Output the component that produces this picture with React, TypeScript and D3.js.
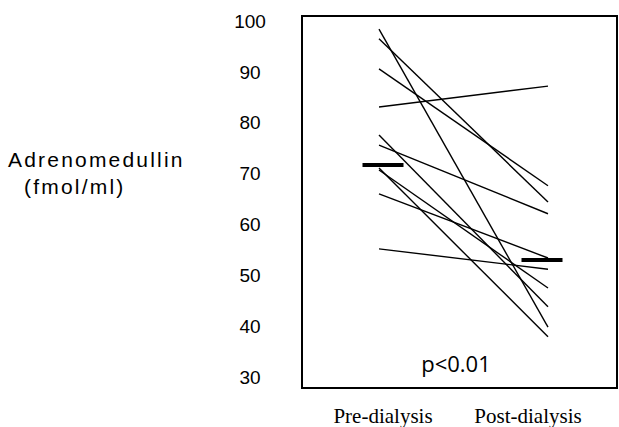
import React, { useEffect, useRef } from 'react';
import * as d3 from 'd3';

// values (fmol/ml)
const groups = ['Pre-dialysis', 'Post-dialysis'];
const preValues = [98.4, 96.5, 90.6, 83.1, 77.6, 75.6, 71.1, 70.7, 66.0, 55.2];
const postValues = [39.8, 64.4, 67.6, 87.2, 43.8, 62.1, 37.9, 47.5, 53.4, 51.2];
const meanValues = [71.7, 53.0];
const yTicks = [30, 40, 50, 60, 70, 80, 90, 100];

const App = () => {
    const svgRef = useRef<SVGSVGElement>(null);

    useEffect(() => {
        const width = 619;
        const height = 427;
        const box = { left: 302, right: 617, top: 16, bottom: 388 };

        const svg = d3.select(svgRef.current);
        svg.selectAll('*').remove();
        svg.attr('width', width).attr('height', height);

        const scaleY = d3.scaleLinear().domain([30, 100]).range([377, 21]);
        const scaleX = d3.scalePoint().domain(groups).range([379, 548]);

        // frame
        svg.append('rect')
            .attr('x', box.left)
            .attr('y', box.top)
            .attr('width', box.right - box.left)
            .attr('height', box.bottom - box.top)
            .attr('fill', 'none')
            .attr('stroke', '#000')
            .attr('stroke-width', 2);

        // tick labels (no tick marks in the original)
        svg.append('g')
            .selectAll('text')
            .data(yTicks)
            .join('text')
            .attr('x', 250)
            .attr('y', d => scaleY(d))
            .attr('dy', '0.35em')
            .attr('text-anchor', 'middle')
            .style('font-family', '"Liberation Sans", Arial, sans-serif')
            .style('font-size', '19px')
            .text(d => d);

        // y title
        svg.append('text')
            .attr('x', 8)
            .attr('y', 167)
            .style('font-family', '"Liberation Sans", Arial, sans-serif')
            .style('font-size', '21px')
            .style('letter-spacing', '2.2px')
            .text('Adrenomedullin');
        svg.append('text')
            .attr('x', 24)
            .attr('y', 194)
            .style('font-family', '"Liberation Sans", Arial, sans-serif')
            .style('font-size', '21px')
            .style('letter-spacing', '2.2px')
            .text('(fmol/ml)');

        // paired lines
        const pairs = preValues.map((v, i) => [v, postValues[i]]);
        const line = d3.line<number>()
            .x((_, i) => scaleX(groups[i]) as number)
            .y(d => scaleY(d));

        svg.append('g')
            .selectAll('path')
            .data(pairs)
            .join('path')
            .attr('d', d => line(d))
            .attr('fill', 'none')
            .attr('stroke', '#000')
            .attr('stroke-width', 1.4);

        // mean bars
        const meanX = [383, 542];
        svg.append('g')
            .selectAll('line')
            .data(meanValues)
            .join('line')
            .attr('x1', (_, i) => meanX[i] - 20.5)
            .attr('x2', (_, i) => meanX[i] + 20.5)
            .attr('y1', d => scaleY(d))
            .attr('y2', d => scaleY(d))
            .attr('stroke', '#000')
            .attr('stroke-width', 4);

        // group labels
        const labelX = [383, 528];
        svg.append('g')
            .selectAll('text')
            .data(groups)
            .join('text')
            .attr('x', (_, i) => labelX[i])
            .attr('y', 423)
            .attr('text-anchor', 'middle')
            .style('font-family', '"Liberation Serif", "Times New Roman", serif')
            .style('font-size', '21px')
            .text(d => d);

        svg.append('text')
            .attr('x', 456)
            .attr('y', 372)
            .attr('text-anchor', 'middle')
            .style('font-family', '"Open Sans", sans-serif')
            .style('font-size', '22px')
            .text('p<0.01');
    }, []);

    return (
        <div style={{ position: 'absolute', left: 0, top: 0, background: '#fff' }}>
            <svg ref={svgRef} style={{ display: 'block' }}></svg>
        </div>
    );
};

export default App;
